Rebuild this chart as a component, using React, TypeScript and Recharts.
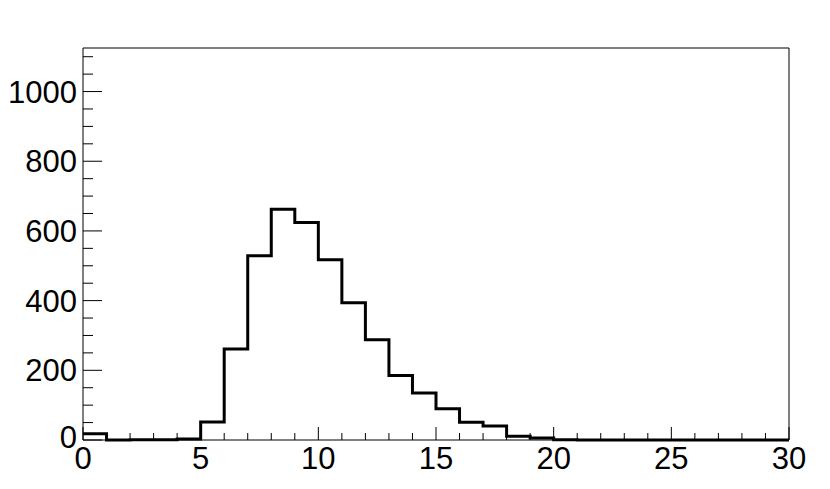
import React from "react";
import { ComposedChart, Line, XAxis, YAxis, ReferenceArea } from "recharts";

// bin contents, one per unit bin from 0 to 30
const binCounts = [
  18, 0, 1, 1, 3, 52, 261, 529, 662, 624,
  517, 394, 288, 185, 135, 90, 51, 40, 11, 6,
  1, 0, 0, 0, 0, 0, 0, 0, 0, 0,
];
const xTicks = Array.from({ length: 31 }, (_, i) => i);
const xMajor = [0, 5, 10, 15, 20, 25, 30];
const yTicks = Array.from({ length: 23 }, (_, i) => i * 50);
const yMajor = [0, 200, 400, 600, 800, 1000];
const yMax = 1125;

// step outline: one point per bin low edge, plus closing edge
const data = binCounts
  .map((v, i) => ({ x: i, v }))
  .concat([{ x: binCounts.length, v: binCounts[binCounts.length - 1] }]);

const font = "'Liberation Sans', Arial, Helvetica, sans-serif";

const XTick = (props: any) => {
  const { x, y, payload } = props;
  const major = xMajor.includes(payload.value);
  return (
    <g>
      <line x1={x} x2={x} y1={y} y2={y - (major ? 13 : 7)} stroke="#000" strokeWidth={1} />
      {major && (
        <text x={x} y={y + 29} textAnchor="middle" fontSize={31} fontFamily={font} fill="#000">
          {payload.value}
        </text>
      )}
    </g>
  );
};

const YTick = (props: any) => {
  const { x, y, payload } = props;
  const major = yMajor.includes(payload.value);
  return (
    <g>
      <line x1={x} x2={x + (major ? 19 : 10)} y1={y} y2={y} stroke="#000" strokeWidth={1} />
      {major && (
        <text
          x={x - 6}
          y={y + (payload.value === 0 ? 8 : 11)}
          textAnchor="end"
          fontSize={31}
          fontFamily={font}
          fill="#000"
        >
          {payload.value}
        </text>
      )}
    </g>
  );
};

export default function App() {
  return (
    <div style={{ position: "absolute", left: 0, top: 0, background: "#fff" }}>
      <ComposedChart
        width={830}
        height={489}
        data={data}
        margin={{ top: 48, right: 41, left: 0, bottom: 0 }}
      >
        <XAxis
          dataKey="x"
          type="number"
          domain={[0, 30]}
          ticks={xTicks}
          interval={0}
          height={49}
          tickSize={0}
          tickMargin={0}
          tickLine={false}
          axisLine={false}
          tick={<XTick />}
        />
        <YAxis
          type="number"
          domain={[0, yMax]}
          ticks={yTicks}
          interval={0}
          width={83}
          tickSize={0}
          tickMargin={0}
          tickLine={false}
          axisLine={false}
          tick={<YTick />}
        />
        <ReferenceArea x1={0} x2={30} y1={0} y2={yMax} fill="none" stroke="#000" strokeWidth={1} />
        <Line
          dataKey="v"
          type="stepAfter"
          stroke="#000"
          strokeWidth={3}
          dot={false}
          isAnimationActive={false}
        />
      </ComposedChart>
    </div>
  );
}
